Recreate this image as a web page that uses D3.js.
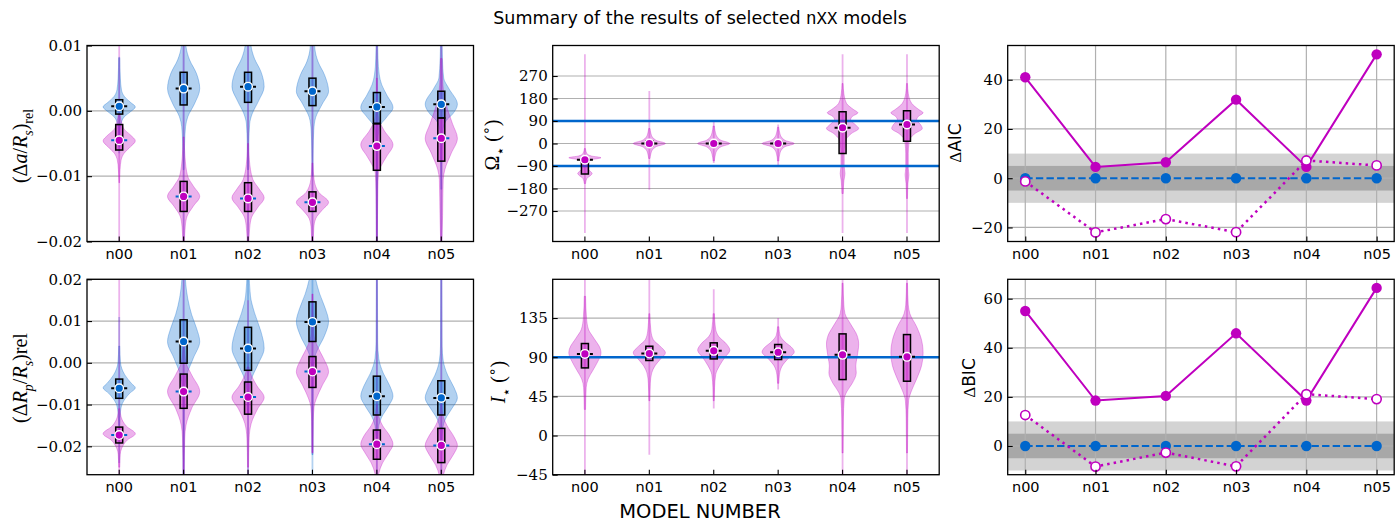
<!DOCTYPE html>
<html><head><meta charset="utf-8">
<script src="https://cdn.jsdelivr.net/npm/d3@7"></script>
<style>
body{margin:0;background:#fff;}
svg{display:block;}
</style></head><body>
<svg id="fig" width="1400" height="524"></svg>
<script>
const models = ["n00", "n01", "n02", "n03", "n04", "n05"];
const BLUE = "#0066cc", MAG = "#bf00bf";

// ---------- (Δa/Rs)rel : posterior violins ----------
const aBlueMed = [0.0007, 0.0034, 0.0037, 0.0030, 0.0006, 0.0010];
const aBlueQ1  = [-0.0005, 0.0009, 0.0013, 0.0008, -0.0019, -0.0011];
const aBlueQ3  = [0.0017, 0.0059, 0.0059, 0.0050, 0.0028, 0.0030];
const aBlueExt = [[-0.0065, 0.0081], [-0.03, 0.03], [-0.03, 0.03], [-0.03, 0.03], [-0.03, 0.03], [-0.03, 0.03]];
const aBlueShape = [
  [[0.0082,0.03],[0.005,0.07],[0.0032,0.14],[0.0022,0.32],[0.0013,0.7],[0.0006,1],[-0.0001,0.72],[-0.0009,0.32],[-0.0019,0.12],[-0.003,0.05],[-0.0055,0.02]],
  [[0.013,0.08],[0.0098,0.15],[0.0078,0.37],[0.0057,0.8],[0.0034,1],[0.0011,0.68],[-0.0009,0.26],[-0.0024,0.12],[-0.005,0.06],[-0.009,0.03]],
  [[0.013,0.1],[0.01,0.18],[0.008,0.4],[0.006,0.8],[0.0037,1],[0.0015,0.65],[-0.0005,0.25],[-0.002,0.1],[-0.005,0.05],[-0.009,0.03]],
  [[0.013,0.08],[0.0095,0.15],[0.0075,0.35],[0.0055,0.75],[0.003,1],[0.001,0.6],[-0.001,0.2],[-0.003,0.08],[-0.006,0.04],[-0.01,0.02]],
  [[0.012,0.04],[0.008,0.07],[0.0055,0.15],[0.004,0.3],[0.0025,0.6],[0.0005,1],[-0.001,0.6],[-0.0025,0.15],[-0.005,0.06],[-0.01,0.04],[-0.02,0.03]],
  [[0.012,0.04],[0.008,0.07],[0.005,0.15],[0.0035,0.45],[0.001,1],[-0.0005,0.7],[-0.0015,0.3],[-0.003,0.1],[-0.006,0.05],[-0.012,0.03]]
];
const aMagMed = [-0.0045, -0.0131, -0.0134, -0.0140, -0.0054, -0.0042];
const aMagQ1  = [-0.0060, -0.0154, -0.0154, -0.0154, -0.0091, -0.0077];
const aMagQ3  = [-0.0021, -0.0108, -0.0110, -0.0124, -0.0020, -0.0011];
const aMagExt = [[-0.03, 0.03], [-0.03, 0.03], [-0.03, 0.03], [-0.03, 0.03], [-0.03, 0.03], [-0.03, 0.03]];
const aMagShape = [
  [[-0.0005,0.05],[-0.0015,0.12],[-0.0028,0.3],[-0.0037,0.7],[-0.0046,1],[-0.0055,0.7],[-0.0065,0.3],[-0.0075,0.12],[-0.009,0.05],[-0.011,0.02]],
  [[-0.004,0.03],[-0.0069,0.08],[-0.01,0.25],[-0.0115,0.6],[-0.0131,1],[-0.0146,0.6],[-0.0161,0.22],[-0.0177,0.1],[-0.02,0.05]],
  [[-0.005,0.03],[-0.0075,0.08],[-0.0105,0.3],[-0.012,0.7],[-0.0133,1],[-0.0148,0.6],[-0.0163,0.22],[-0.018,0.1],[-0.021,0.04]],
  [[-0.008,0.03],[-0.0105,0.1],[-0.0125,0.4],[-0.014,1],[-0.0152,0.6],[-0.0165,0.2],[-0.018,0.08],[-0.021,0.04]],
  [[0.005,0.03],[0,0.06],[-0.0015,0.15],[-0.003,0.45],[-0.0052,1],[-0.007,0.6],[-0.0085,0.25],[-0.0095,0.1],[-0.012,0.06],[-0.02,0.03]],
  [[0.008,0.05],[0.004,0.1],[0.001,0.3],[-0.002,0.7],[-0.0042,1],[-0.0066,0.6],[-0.009,0.22],[-0.0105,0.12],[-0.016,0.08],[-0.02,0.04]]
];
const aTicks = [-0.02, -0.01, 0.00, 0.01];

// ---------- (ΔRp/Rs)rel ----------
const rBlueMed = [-0.0061, 0.0051, 0.0034, 0.0098, -0.0080, -0.0084];
const rBlueQ1  = [-0.0085, -0.0001, -0.0018, 0.0051, -0.0125, -0.0125];
const rBlueQ3  = [-0.0039, 0.0103, 0.0085, 0.0146, -0.0032, -0.0043];
const rBlueExt = [[-0.024, 0.011], [-0.04, 0.04], [-0.04, 0.04], [-0.04, 0.04], [-0.04, 0.04], [-0.04, 0.04]];
const rBlueShape = [
  [[0.004,0.03],[0,0.08],[-0.0029,0.35],[-0.0049,0.75],[-0.006,1],[-0.0073,0.65],[-0.0097,0.2],[-0.0117,0.08],[-0.015,0.03]],
  [[0.022,0.08],[0.0155,0.25],[0.0115,0.5],[0.0083,0.8],[0.0051,1],[0.0011,0.6],[-0.0029,0.2],[-0.006,0.08],[-0.012,0.04],[-0.027,0.03]],
  [[0.022,0.06],[0.016,0.15],[0.012,0.4],[0.0075,0.8],[0.0035,1],[-0.0005,0.6],[-0.004,0.2],[-0.0065,0.08],[-0.012,0.04]],
  [[0.024,0.05],[0.02,0.2],[0.0165,0.45],[0.013,0.8],[0.0099,1],[0.0065,0.75],[0.003,0.3],[0.001,0.12],[-0.003,0.05],[-0.022,0.03]],
  [[0.02,0.03],[0.005,0.05],[0.001,0.12],[-0.0025,0.4],[-0.0055,0.8],[-0.008,1],[-0.0105,0.7],[-0.013,0.3],[-0.015,0.12],[-0.018,0.05]],
  [[0.02,0.03],[0.004,0.05],[0.0005,0.12],[-0.003,0.4],[-0.006,0.8],[-0.0084,1],[-0.011,0.65],[-0.0135,0.25],[-0.0155,0.1],[-0.019,0.05]]
];
const rMagMed = [-0.0173, -0.0069, -0.0082, -0.0021, -0.0195, -0.0198];
const rMagQ1  = [-0.0192, -0.0109, -0.0123, -0.0059, -0.0231, -0.0239];
const rMagQ3  = [-0.0154, -0.0027, -0.0046, 0.0015, -0.0161, -0.0157];
const rMagExt = [[-0.04, 0.04], [-0.04, 0.04], [-0.04, 0.015], [-0.0217, 0.0165], [-0.04, 0.04], [-0.04, 0.04]];
const rMagShape = [
  [[-0.011,0.04],[-0.013,0.12],[-0.0152,0.45],[-0.017,1],[-0.0185,0.5],[-0.0205,0.15],[-0.022,0.06],[-0.025,0.03]],
  [[0.004,0.04],[0,0.15],[-0.0029,0.5],[-0.0069,1],[-0.0109,0.5],[-0.0149,0.15],[-0.018,0.07],[-0.027,0.03]],
  [[-0.001,0.05],[-0.003,0.2],[-0.0055,0.55],[-0.0083,1],[-0.011,0.6],[-0.0145,0.2],[-0.018,0.07],[-0.025,0.03]],
  [[0.0165,0.02],[0.007,0.08],[0.004,0.3],[0.001,0.7],[-0.0021,1],[-0.0055,0.6],[-0.0085,0.25],[-0.0105,0.1],[-0.014,0.05],[-0.0215,0.03]],
  [[-0.01,0.04],[-0.0125,0.1],[-0.015,0.35],[-0.0175,0.8],[-0.0195,1],[-0.0215,0.75],[-0.024,0.35],[-0.0265,0.12],[-0.029,0.05]],
  [[-0.01,0.04],[-0.0125,0.1],[-0.015,0.35],[-0.0178,0.8],[-0.0198,1],[-0.022,0.75],[-0.0245,0.35],[-0.027,0.12],[-0.029,0.05]]
];
const rTicks = [-0.02, -0.01, 0.00, 0.01, 0.02];

// ---------- Ω⋆ (deg) ----------
const omMed = [-65, 0, 0, 0, 63, 76];
const omQ1  = [-122, -8, -8, -8, -40, 9];
const omQ3  = [-75, 10, 8, 8, 127, 131];
const omExt = [[-358, 357], [-185, 210], [-78, 86], [-88, 76], [-358, 357], [-358, 357]];
const omShape = [
  [[-20,0.03],[-40,0.12],[-50,0.4],[-57,1],[-65,0.4],[-80,0.12],[-100,0.15],[-112,0.35],[-120,0.45],[-128,0.35],[-140,0.12],[-160,0.04]],
  [[60,0.04],[40,0.1],[25,0.2],[12,0.45],[0,1],[-12,0.45],[-25,0.2],[-40,0.1],[-60,0.04]],
  [[70,0.04],[45,0.1],[28,0.2],[13,0.45],[0,1],[-13,0.45],[-28,0.2],[-45,0.1],[-70,0.04]],
  [[65,0.04],[42,0.1],[26,0.2],[12,0.45],[0,1],[-12,0.45],[-26,0.2],[-42,0.1],[-70,0.04]],
  [[240,0.03],[200,0.08],[160,0.25],[135,0.7],[123,0.95],[108,0.6],[95,0.5],[75,0.8],[60,1],[40,0.55],[20,0.25],[0,0.15],[-40,0.1],[-90,0.1],[-120,0.15],[-150,0.08],[-200,0.04]],
  [[240,0.03],[200,0.08],[160,0.3],[135,0.75],[123,1],[108,0.7],[95,0.6],[75,0.85],[60,0.95],[40,0.5],[20,0.2],[0,0.12],[-40,0.08],[-100,0.08],[-125,0.12],[-160,0.06],[-220,0.03]]
];
const omTicks = [-270, -180, -90, 0, 90, 180, 270];
const omRefLines = [-90, 90];

// ---------- I⋆ (deg) ----------
const incMed = [93.8, 94.2, 97.3, 95.7, 92.7, 90.4];
const incQ1  = [77.7, 86.2, 88.0, 87.3, 64.3, 62.4];
const incQ3  = [105.7, 102.6, 106.5, 104.6, 116.8, 116.0];
const incExt = [[-60, 200], [-22, 200], [31, 168], [53, 135], [-60, 200], [-60, 200]];
const incShape = [
  [[160,0.04],[135,0.1],[122,0.22],[112,0.55],[100,0.95],[95,1],[85,0.8],[75,0.5],[65,0.2],[55,0.08],[30,0.04]],
  [[140,0.03],[120,0.1],[110,0.25],[103,0.65],[95,1],[88,0.7],[80,0.35],[72,0.15],[60,0.06],[40,0.03]],
  [[140,0.04],[122,0.12],[114,0.3],[105,0.8],[98,1],[90,0.7],[80,0.35],[70,0.12],[55,0.05],[40,0.03]],
  [[125,0.04],[115,0.12],[108,0.4],[100,0.9],[96,1],[88,0.6],[80,0.25],[70,0.08],[60,0.04]],
  [[175,0.03],[150,0.08],[140,0.15],[128,0.5],[115,0.9],[105,1],[90,0.9],[80,0.82],[72,0.85],[60,0.6],[50,0.25],[42,0.1],[20,0.05],[-20,0.03]],
  [[175,0.03],[150,0.08],[140,0.18],[125,0.6],[110,0.9],[95,1],[80,0.9],[65,0.6],[50,0.25],[40,0.1],[20,0.05],[-20,0.03]]
];
const incTicks = [-45, 0, 45, 90, 135];
const incRefLines = [90];

// ---------- information criteria ----------
const aicRef   = [0, 0, 0, 0, 0, 0];
const aicSolid = [41.0, 4.6, 6.5, 31.9, 4.6, 50.3];
const aicOpen  = [-1.3, -22.0, -16.6, -21.9, 7.2, 5.2];
const aicTicks = [-20, 0, 20, 40];
const bicRef   = [0, 0, 0, 0, 0, 0];
const bicSolid = [55.0, 18.5, 20.4, 45.9, 18.5, 64.4];
const bicOpen  = [12.6, -8.4, -2.7, -8.3, 21.1, 19.1];
const bicTicks = [0, 20, 40, 60];
const bandOuter = [-10, 10];
const bandInner = [-5, 5];

// ================= drawing =================
const svg = d3.select("#fig");
const COLS = [87, 552.7, 1007.7], PW = 386.5;
const ROWS = [45.5, 279.3], PH = [196, 195.4];
const GRID = "#b0b0b0";
const fmtMinus = s => s.replace("-", "\u2212");

function setupPanel(ci, ri, yDomain, yTicks) {
  const f = {x: COLS[ci], y: ROWS[ri], w: PW, h: PH[ri]};
  const g = svg.append("g");
  const y = d3.scaleLinear().domain(yDomain).range([f.y + f.h, f.y]);
  const clipId = `clip${ci}${ri}`;
  svg.append("clipPath").attr("id", clipId).append("rect")
    .attr("x", f.x).attr("y", f.y).attr("width", f.w).attr("height", f.h);
  const under = g.append("g").attr("clip-path", `url(#${clipId})`);
  const grid = g.append("g");
  grid.selectAll("line").data(yTicks).join("line")
    .attr("x1", f.x).attr("x2", f.x + f.w)
    .attr("y1", d => y(d)).attr("y2", d => y(d))
    .attr("stroke", GRID).attr("stroke-width", 1.2);
  const plot = g.append("g").attr("clip-path", `url(#${clipId})`);
  return {f, g, y, under, grid, plot};
}

function finishPanel(p, x, xTicks, yTicks, yFmt) {
  const {f, g, y} = p;
  const ax = g.append("g").attr("transform", `translate(0,${f.y + f.h})`)
    .call(d3.axisBottom(x).tickValues(xTicks).tickFormat((d, i) => models[i])
      .tickSizeInner(-5).tickSizeOuter(0).tickPadding(7));
  ax.select(".domain").remove();
  ax.selectAll("line").attr("stroke", "#000").attr("stroke-width", 1.1);
  ax.selectAll("text").attr("font-family", "DejaVu Sans").attr("font-size", 14.5).attr("fill", "#000");
  const ay = g.append("g").attr("transform", `translate(${f.x},0)`)
    .call(d3.axisLeft(y).tickValues(yTicks).tickFormat(d => fmtMinus(yFmt(d)))
      .tickSizeInner(-5).tickSizeOuter(0).tickPadding(5));
  ay.select(".domain").remove();
  ay.selectAll("line").attr("stroke", "#000").attr("stroke-width", 1.1);
  ay.selectAll("text").attr("font-family", "DejaVu Serif").attr("font-size", 15).attr("fill", "#000");
  g.append("rect").attr("x", f.x).attr("y", f.y).attr("width", f.w).attr("height", f.h)
    .attr("fill", "none").attr("stroke", "#000").attr("stroke-width", 1.3);
}

function violinSeries(p, x, s) {
  const hw = x.bandwidth() * 0.25;
  const cxOf = i => x(models[i]) + x.bandwidth() / 2;
  s.shapes.forEach((knots, i) => {
    const cx = cxOf(i);
    const area = d3.area().curve(d3.curveMonotoneY)
      .y(d => p.y(d[0])).x0(d => cx - d[1] * hw).x1(d => cx + d[1] * hw);
    p.plot.append("path").attr("d", area(knots))
      .attr("fill", s.color).attr("fill-opacity", 0.3)
      .attr("stroke", s.color).attr("stroke-opacity", 0.3).attr("stroke-width", 1);
  });
  p.plot.append("g").selectAll("line").data(s.ext).join("line")
    .attr("x1", (d, i) => cxOf(i)).attr("x2", (d, i) => cxOf(i))
    .attr("y1", d => p.y(d[0])).attr("y2", d => p.y(d[1]))
    .attr("stroke", s.color).attr("stroke-opacity", 0.3).attr("stroke-width", 1.8);
}

function violinMarks(p, x, s) {
  const cxOf = i => x(models[i]) + x.bandwidth() / 2;
  const bw = 7;
  p.plot.append("g").selectAll("rect").data(s.med).join("rect")
    .attr("x", (d, i) => cxOf(i) - bw / 2).attr("width", bw)
    .attr("y", (d, i) => p.y(s.q3[i])).attr("height", (d, i) => p.y(s.q1[i]) - p.y(s.q3[i]))
    .attr("fill", s.color).attr("fill-opacity", 0.4)
    .attr("stroke", "#000").attr("stroke-width", 1.5);
}

function violinCentres(p, x, s) {
  const cxOf = i => x(models[i]) + x.bandwidth() / 2;
  p.plot.append("g").selectAll("line").data(s.med).join("line")
    .attr("x1", (d, i) => cxOf(i) - 8).attr("x2", (d, i) => cxOf(i) + 8)
    .attr("y1", d => p.y(d)).attr("y2", d => p.y(d))
    .attr("stroke", s.dash).attr("stroke-width", 2).attr("stroke-dasharray", "4,2");
  p.plot.append("g").selectAll("circle").data(s.med).join("circle")
    .attr("cx", (d, i) => cxOf(i)).attr("cy", d => p.y(d)).attr("r", 4.3)
    .attr("fill", s.color).attr("stroke", "#fff").attr("stroke-width", 1.4);
}

function violinPanel(ci, ri, yDomain, yTicks, yFmt, seriesList, refLines) {
  const p = setupPanel(ci, ri, yDomain, yTicks);
  const x = d3.scaleBand().domain(models).range([p.f.x, p.f.x + p.f.w]).padding(0);
  seriesList.forEach(s => violinSeries(p, x, s));
  (refLines || []).forEach(v => {
    p.plot.append("line").attr("x1", p.f.x).attr("x2", p.f.x + p.f.w)
      .attr("y1", p.y(v)).attr("y2", p.y(v)).attr("stroke", BLUE).attr("stroke-width", 2.5);
  });
  seriesList.forEach(s => violinMarks(p, x, s));
  seriesList.forEach(s => violinCentres(p, x, s));
  finishPanel(p, x, models, yTicks, yFmt);
}

const f2 = d3.format(".2f"), f0 = d3.format("d");

violinPanel(0, 0, [-0.02, 0.01], aTicks, f2, [
  {color: BLUE, dash: "#000", shapes: aBlueShape, ext: aBlueExt, q1: aBlueQ1, q3: aBlueQ3, med: aBlueMed},
  {color: MAG, dash: BLUE, shapes: aMagShape, ext: aMagExt, q1: aMagQ1, q3: aMagQ3, med: aMagMed}
]);
violinPanel(0, 1, [-0.0268, 0.02], rTicks, f2, [
  {color: BLUE, dash: "#000", shapes: rBlueShape, ext: rBlueExt, q1: rBlueQ1, q3: rBlueQ3, med: rBlueMed},
  {color: MAG, dash: BLUE, shapes: rMagShape, ext: rMagExt, q1: rMagQ1, q3: rMagQ3, med: rMagMed}
]);
violinPanel(1, 0, [-392, 392], omTicks, f0, [
  {color: MAG, dash: "#000", shapes: omShape, ext: omExt, q1: omQ1, q3: omQ3, med: omMed}
], omRefLines);
violinPanel(1, 1, [-45, 179.5], incTicks, f0, [
  {color: MAG, dash: "#000", shapes: incShape, ext: incExt, q1: incQ1, q3: incQ3, med: incMed}
], incRefLines);

function icPanel(ri, yDomain, yTicks, ref, solid, open) {
  const p = setupPanel(2, ri, yDomain, yTicks);
  const x = d3.scaleLinear().domain([-0.25, 5.25]).range([p.f.x, p.f.x + p.f.w]);
  const idx = d3.range(models.length);
  [[bandOuter, "#d3d3d3"], [bandInner, "#a8a8a8"]].forEach(([b, c]) => {
    p.under.append("rect").attr("x", p.f.x).attr("width", p.f.w)
      .attr("y", p.y(b[1])).attr("height", p.y(b[0]) - p.y(b[1])).attr("fill", c);
  });
  p.grid.append("g").selectAll("line").data(idx).join("line")
    .attr("x1", d => x(d)).attr("x2", d => x(d)).attr("y1", p.f.y).attr("y2", p.f.y + p.f.h)
    .attr("stroke", GRID).attr("stroke-width", 1.2);
  const line = d3.line().x((d, i) => x(i)).y(d => p.y(d));
  p.plot.append("path").attr("d", line(ref)).attr("fill", "none")
    .attr("stroke", BLUE).attr("stroke-width", 2).attr("stroke-dasharray", "7.4,3.2");
  p.plot.append("g").selectAll("circle").data(ref).join("circle")
    .attr("cx", (d, i) => x(i)).attr("cy", d => p.y(d)).attr("r", 5.2).attr("fill", BLUE);
  p.plot.append("path").attr("d", line(solid)).attr("fill", "none")
    .attr("stroke", MAG).attr("stroke-width", 2);
  p.plot.append("g").selectAll("circle").data(solid).join("circle")
    .attr("cx", (d, i) => x(i)).attr("cy", d => p.y(d)).attr("r", 5.2).attr("fill", MAG);
  p.plot.append("path").attr("d", line(open)).attr("fill", "none")
    .attr("stroke", MAG).attr("stroke-width", 2.5).attr("stroke-dasharray", "2.5,4.1");
  p.plot.append("g").selectAll("circle").data(open).join("circle")
    .attr("cx", (d, i) => x(i)).attr("cy", d => p.y(d)).attr("r", 4.6)
    .attr("fill", "#fff").attr("stroke", MAG).attr("stroke-width", 1.6);
  finishPanel(p, x, idx, yTicks, f0);
}
icPanel(0, [-25.7, 53.9], aicTicks, aicRef, aicSolid, aicOpen);
icPanel(1, [-11.7, 67.9], bicTicks, bicRef, bicSolid, bicOpen);

// ---------- labels ----------
function mathLabel(x, y, parts, family, size) {
  const t = svg.append("text").attr("transform", `translate(${x},${y}) rotate(-90)`)
    .attr("text-anchor", "middle").attr("font-family", family).attr("font-size", size).attr("fill", "#000");
  let shift = 0;
  parts.forEach(p => {
    const target = p.sub ? size * 0.28 : p.sup ? -size * 0.4 : 0;
    const ts = t.append("tspan").text(p.t).attr("dy", target - shift);
    shift = target;
    if (p.i) ts.attr("font-style", "italic");
    if (p.sub || p.sup) ts.attr("font-size", size * 0.7);
    if (p.f) ts.attr("font-family", p.f);
  });
}
const SERIF = "Liberation Serif", SANS = "DejaVu Sans";
mathLabel(27, 146, [{t: "(\u0394"}, {t: "a", i: 1}, {t: "/"}, {t: "R", i: 1}, {t: "s", i: 1, sub: 1}, {t: ")"}, {t: "rel", sub: 1}], SERIF, 20);
mathLabel(27, 378, [{t: "(\u0394"}, {t: "R", i: 1}, {t: "p", i: 1, sub: 1}, {t: "/"}, {t: "R", i: 1}, {t: "s", i: 1, sub: 1}, {t: ")rel"}], SERIF, 20);
mathLabel(499, 145, [{t: "\u03A9"}, {t: "\u22C6", sub: 1, f: "DejaVu Sans"}, {t: " ("}, {t: "\u2218", sup: 1, f: "DejaVu Sans"}, {t: ")"}], SERIF, 20);
mathLabel(505, 382, [{t: "I", i: 1}, {t: "\u22C6", sub: 1, f: "DejaVu Sans"}, {t: " ("}, {t: "\u2218", sup: 1, f: "DejaVu Sans"}, {t: ")"}], SERIF, 20);
mathLabel(961, 143, [{t: "\u0394", f: SERIF}, {t: "AIC"}], SANS, 17);
mathLabel(975, 378, [{t: "\u0394", f: SERIF}, {t: "BIC"}], SANS, 17);

const title = svg.append("text").attr("x", 700).attr("y", 24).attr("text-anchor", "middle")
  .attr("font-family", SANS).attr("font-size", 17.5).attr("fill", "#000");
title.append("tspan").text("Summary of the results of selected ");
title.append("tspan").attr("font-family", "Liberation Mono").text("nXX");
title.append("tspan").text(" models");

svg.append("text").attr("x", 700).attr("y", 518).attr("text-anchor", "middle")
  .attr("font-family", SANS).attr("font-size", 19.5).attr("fill", "#000").text("MODEL NUMBER");
</script>
</body></html>
